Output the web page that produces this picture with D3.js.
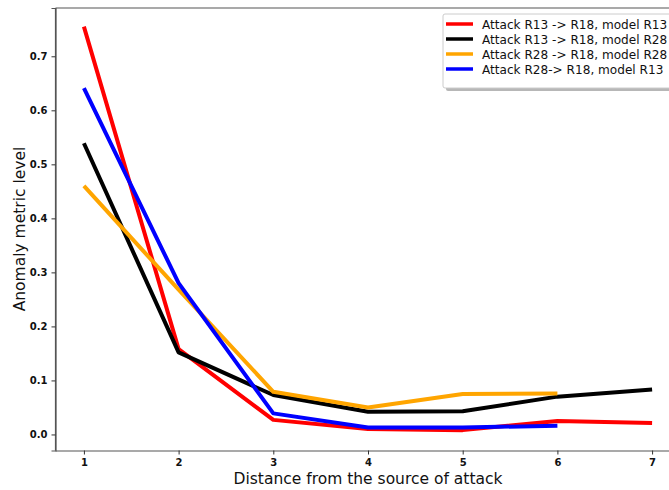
<!DOCTYPE html>
<html><head><meta charset="utf-8">
<script src="https://cdn.jsdelivr.net/npm/d3@7"></script>
<style>body{margin:0;background:#fff;}svg{display:block;font-family:"DejaVu Sans",sans-serif;}</style>
</head><body>
<svg id="c" width="669" height="490"></svg>
<script>
const distances = [1,2,3,4,5,6,7];
const seriesNames = ["Attack R13 -> R18, model R13","Attack R13 -> R18, model R28","Attack R28 -> R18, model R28","Attack R28-> R18, model R13"];
const seriesColors = ["#ff0000","#000000","#ffa500","#0000ff"];
const redValues    = [0.755,0.158,0.027,0.010,0.008,0.025,0.021];
const blackValues  = [0.539,0.152,0.073,0.042,0.043,0.070,0.083];
const orangeValues = [0.460,0.268,0.079,0.050,0.075,0.076];
const blueValues   = [0.641,0.280,0.039,0.013,0.013,0.016];
const yTicks = [0.0,0.1,0.2,0.3,0.4,0.5,0.6,0.7];
const xTicks = [1,2,3,4,5,6,7];
const allValues = [redValues,blackValues,orangeValues,blueValues];

const svg = d3.select("#c");
const L=55.5, T=8, B=450.5, R=680.5;
const x = d3.scaleLinear().domain([0.7,7.3]).range([L,R]);
const y = d3.scaleLinear().domain([-0.0297,0.7894]).range([B,T]);

// axes frame (left, top, bottom)
svg.append("line").attr("x1",L).attr("x2",L).attr("y1",T).attr("y2",B).attr("stroke","#555").attr("stroke-width",1.2);
svg.append("line").attr("x1",L).attr("x2",669).attr("y1",T).attr("y2",T).attr("stroke","#555").attr("stroke-width",1.2);

const xa = svg.append("g").attr("transform",`translate(0,${B})`)
  .call(d3.axisBottom(x).tickValues(xTicks).tickFormat(d3.format("d")).tickSizeOuter(0).tickSize(4).tickPadding(4));
const ya = svg.append("g").attr("transform",`translate(${L},0)`)
  .call(d3.axisLeft(y).tickValues(yTicks).tickFormat(d3.format(".1f")).tickSizeOuter(0).tickSize(4).tickPadding(4));
[xa,ya].forEach(a=>{
  a.select(".domain").attr("stroke","#555").attr("stroke-width",1.2);
  a.selectAll(".tick line").attr("stroke","#333");
  a.selectAll(".tick text").attr("font-family","DejaVu Sans").attr("font-weight","bold").attr("font-size","10px").attr("fill","#111");
});
xa.select(".domain").attr("d",`M${L},0.5H669`);

const line = d3.line().x((d,i)=>x(distances[i])).y(d=>y(d));
allValues.forEach((vals,k)=>{
  svg.append("path").datum(vals).attr("d",line).attr("fill","none")
    .attr("stroke",seriesColors[k]).attr("stroke-width",4).attr("stroke-linejoin","round");
});

svg.append("text").attr("x",368).attr("y",484).attr("text-anchor","middle")
  .attr("font-size","15.5px").attr("fill","#111").text("Distance from the source of attack");
svg.append("text").attr("transform","translate(25,229) rotate(-90)").attr("text-anchor","middle")
  .attr("font-size","15.5px").attr("fill","#111").text("Anomaly metric level");

// legend
const lg = svg.append("g");
lg.append("rect").attr("x",446).attr("y",17).attr("width",260).attr("height",74).attr("rx",2).attr("fill","#999").attr("opacity",0.7);
lg.append("rect").attr("x",443).attr("y",14).attr("width",260).attr("height",74).attr("rx",2).attr("fill","#fff").attr("stroke","#ccc");
seriesNames.forEach((n,i)=>{
  const yy = 24 + i*15;
  lg.append("line").attr("x1",446).attr("x2",473).attr("y1",yy).attr("y2",yy).attr("stroke",seriesColors[i]).attr("stroke-width",3.5);
  lg.append("text").attr("x",482).attr("y",yy+4.5).attr("font-size","12.1px").attr("fill","#111").text(n);
});
</script>
</body></html>
